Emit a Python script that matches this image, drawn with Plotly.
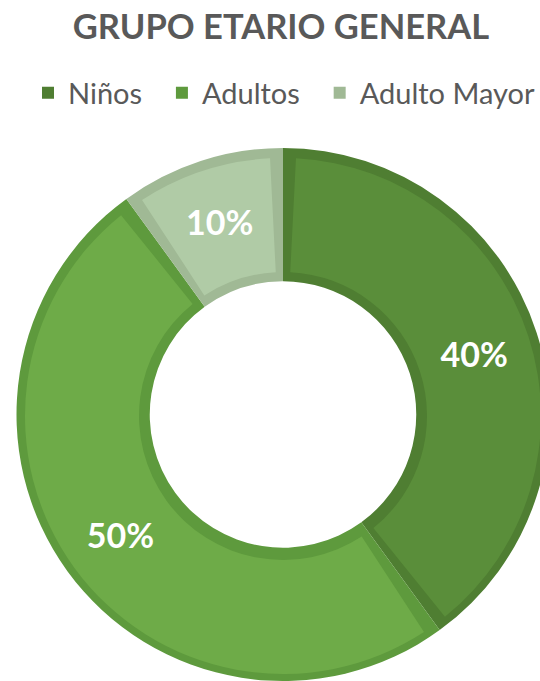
import plotly.graph_objects as go

# ---- data ----
labels = ["Niños", "Adultos", "Adulto Mayor"]
values = [40, 50, 10]
title_text = "GRUPO ETARIO GENERAL"

# ---- styles ----
fill_colors = ["#5a8e3a", "#6eab48", "#b0cba6"]
border_colors = ["#4f7e32", "#5e9a3d", "#a0b995"]
W, H = 552, 681          # slightly wider than the window: the ring is clipped at the right like the reference
CX, CY, R = 283, 416, 268
border_px = 10
gap = 1.6  # share of total (same units as values) used for the radial border gaps
legend_pad = "\u00a0\u00a0"  # extra spacing between legend entries

total = sum(values)
pct_text = [f"{v / total * 100:.0f}%" for v in values]
legend_labels = [lab + (legend_pad if i < len(labels) - 1 else "") for i, lab in enumerate(labels)]


def dom_x(a, b):
    return [max(a / W, 0), min(b / W, 1)]


def dom_y(top, bot):
    return [max(1 - bot / H, 0), min(1 - top / H, 1)]


fig = go.Figure()

# border layer (full ring) - also carries the legend
fig.add_trace(go.Pie(
    labels=legend_labels,
    values=values,
    sort=False,
    direction="clockwise",
    rotation=0,
    hole=0.5,
    marker=dict(colors=border_colors, line=dict(width=0)),
    textinfo="none",
    hovertemplate="%{label}: %{percent}<extra></extra>",
    domain=dict(x=dom_x(CX - R, CX + R), y=dom_y(CY - R, CY + R)),
    showlegend=True,
))

# fill layer (inset ring with gaps at slice boundaries)
b_vals, b_cols, b_text, b_labels = [gap / 2], ["rgba(0,0,0,0)"], [""], ["g0"]
for i, (lab, v) in enumerate(zip(labels, values)):
    b_vals.append(v - gap)
    b_cols.append(fill_colors[i])
    b_text.append(pct_text[i])
    b_labels.append(lab)
    b_vals.append(gap if i < len(values) - 1 else gap / 2)
    b_cols.append("rgba(0,0,0,0)")
    b_text.append("")
    b_labels.append(f"g{i + 1}")

inner_r = R * 0.5
r_b = R - border_px
hole_b = (inner_r + border_px) / r_b
fig.add_trace(go.Pie(
    labels=b_labels,
    values=b_vals,
    sort=False,
    direction="clockwise",
    rotation=0,
    hole=hole_b,
    marker=dict(colors=b_cols, line=dict(width=0)),
    text=b_text,
    textinfo="text",
    textposition="inside",
    insidetextorientation="horizontal",
    textfont=dict(family="Lato", size=34, color="white", weight="bold"),
    hoverinfo="skip",
    domain=dict(x=dom_x(CX - r_b, CX + r_b), y=dom_y(CY - r_b, CY + r_b)),
    showlegend=False,
))

fig.update_layout(
    width=W,
    height=H,
    margin=dict(l=0, r=0, t=0, b=0),
    paper_bgcolor="white",
    plot_bgcolor="white",
    title=dict(
        text=title_text,
        x=281 / W,
        xanchor="center",
        y=1 - 27 / H,
        yanchor="middle",
        font=dict(family="Lato", size=34.5, color="#595959", weight="bold"),
    ),
    legend=dict(
        orientation="h",
        x=28 / W,
        xanchor="left",
        y=1 - 93 / H,
        yanchor="middle",
        font=dict(family="Lato", size=29, color="#595959"),
        bgcolor="rgba(0,0,0,0)",
    ),
)

fig.write_html(
    "out.html",
    config={"displayModeBar": False},
    post_script="document.body.style.margin='0';document.body.style.overflow='hidden';",
)
